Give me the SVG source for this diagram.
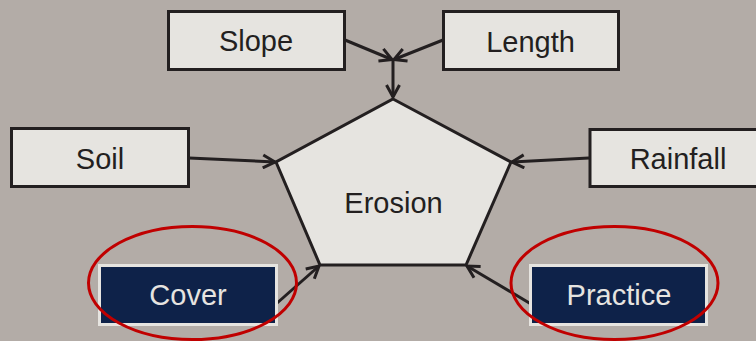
<svg xmlns="http://www.w3.org/2000/svg" width="756" height="341" viewBox="0 0 756 341">
<style>
.bx{fill:#e6e4e0;stroke:#231f20;stroke-width:3}
.dk{fill:#0e2249;stroke:#e6e4e0;stroke-width:3}
.t{font-family:"Liberation Sans",Arial,sans-serif;font-size:29px;fill:#231f20;text-anchor:middle}
.tw{fill:#e6e4e0}
.ln{fill:none;stroke:#231f20;stroke-width:3}
.ov{fill:none;stroke:#c00000;stroke-width:3}
</style>
<defs>
<marker id="ah" markerUnits="userSpaceOnUse" viewBox="0 0 16 16" markerWidth="16" markerHeight="16" refX="14" refY="8" orient="auto">
<path d="M2,1.5 L14,8 L2,14.5" fill="none" stroke="#231f20" stroke-width="3"/>
</marker>
</defs>
<rect width="756" height="341" fill="#b3aca7"/>
<g id="connectors">
<line class="ln" x1="393" y1="60" x2="393" y2="97" marker-end="url(#ah)"/>
<line class="ln" x1="345" y1="40" x2="392" y2="59.5" marker-end="url(#ah)"/>
<line class="ln" x1="443" y1="40" x2="394" y2="59.5" marker-end="url(#ah)"/>
<line class="ln" x1="189" y1="158" x2="275" y2="162" marker-end="url(#ah)"/>
<line class="ln" x1="589" y1="158" x2="512" y2="162" marker-end="url(#ah)"/>
<line class="ln" x1="276" y1="304" x2="319" y2="266" marker-end="url(#ah)"/>
<line class="ln" x1="531" y1="304" x2="467" y2="266" marker-end="url(#ah)"/>
</g>
<g id="erosion">
<polygon class="bx" points="393,99 511,162 466,265 320,265 276,162"/>
<text class="t" x="393.5" y="213">Erosion</text>
</g>
<g id="slope">
<rect class="bx" x="168.5" y="11.5" width="176" height="58"/>
<text class="t" x="256" y="51">Slope</text>
</g>
<g id="length">
<rect class="bx" x="443.5" y="11.5" width="175" height="58"/>
<text class="t" x="530.5" y="51.5">Length</text>
</g>
<g id="soil">
<rect class="bx" x="11.5" y="128.5" width="177" height="58"/>
<text class="t" x="100" y="169">Soil</text>
</g>
<g id="rainfall">
<rect class="bx" x="590" y="129.5" width="175" height="57"/>
<text class="t" x="678" y="169">Rainfall</text>
</g>
<g id="cover">
<rect class="dk" x="99.5" y="265.5" width="177" height="59"/>
<text class="t tw" x="188" y="305">Cover</text>
<ellipse class="ov" cx="192.5" cy="283" rx="104" ry="56.5"/>
</g>
<g id="practice">
<rect class="dk" x="530.5" y="265.5" width="176" height="59"/>
<text class="t tw" x="619" y="305">Practice</text>
<ellipse class="ov" cx="614.5" cy="283" rx="103.5" ry="56.5"/>
</g>
</svg>
